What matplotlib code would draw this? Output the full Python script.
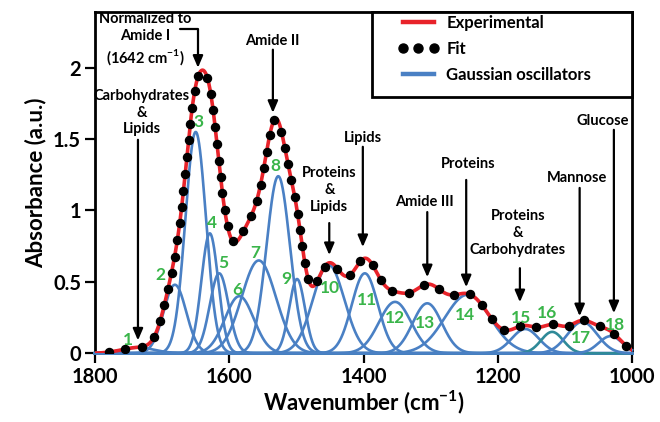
import numpy as np
import matplotlib
matplotlib.use("Agg")
import matplotlib.pyplot as plt
from matplotlib.lines import Line2D
from matplotlib.patches import Rectangle

plt.rcParams["font.family"] = ["Lato", "DejaVu Sans"]
plt.rcParams["font.weight"] = "bold"
plt.rcParams["mathtext.fontset"] = "custom"
plt.rcParams["mathtext.bf"] = "Lato:bold"
plt.rcParams["mathtext.rm"] = "Lato:bold"

# Gaussian oscillators: centre (cm-1), height (a.u.), sigma (cm-1)
centers = [1736, 1681, 1650, 1629, 1615, 1585, 1556, 1527, 1499, 1452,
           1398, 1353, 1305, 1245, 1159, 1119, 1074, 1032]
heights = [0.04, 0.48, 1.55, 0.84, 0.56, 0.40, 0.65, 1.24, 0.52, 0.62,
           0.56, 0.36, 0.35, 0.41, 0.17, 0.15, 0.22, 0.12]
sigmas = [24.7, 16.9, 15.4, 12.5, 14.0, 21.5, 25.5, 17.5, 11.8, 23.5,
          19.5, 23.9, 21.7, 34.0, 20.3, 16.5, 22.0, 17.6]
peak_ids = [str(i + 1) for i in range(len(centers))]
peak_label_x = [1751, 1703, 1646, 1626, 1609, 1588, 1561, 1532, 1515, 1450,
                1394, 1353, 1308, 1249, 1166, 1126, 1076, 1025]
peak_label_y = [0.09, 0.55, 1.62, 0.91, 0.63, 0.44, 0.70, 1.31, 0.52, 0.46,
                0.37, 0.25, 0.21, 0.27, 0.25, 0.28, 0.11, 0.20]

# band assignments: text, text position, arrow start, arrow tip
band_text = ["Carbohydrates\n&\nLipids", "Normalized to\nAmide I\n(1642 cm$^{\\mathbf{-1}}$)",
             "Amide II", "Proteins\n&\nLipids", "Lipids", "Amide III", "Proteins",
             "Proteins\n&\nCarbohydrates", "Mannose", "Glucose"]
band_text_xy = [(1730, 1.685), (1725, 2.196), (1536, 2.189), (1451, 1.144), (1401, 1.509),
                (1310, 1.060), (1244, 1.326), (1170, 0.842), (1082, 1.228), (1043, 1.628)]
arrow_from = [(1736, 1.495), (1673, 2.274), (1535, 2.126), (1451, 0.912), (1401, 1.446),
              (1305, 0.989), (1247, 1.214), (1167, 0.596), (1078, 1.158), (1027, 1.565)]
arrow_to = [(1736, 0.09), (1646.6, 2.0), (1535, 1.684), (1451, 0.688), (1401, 0.744),
            (1305, 0.533), (1247, 0.463), (1167, 0.358), (1078, 0.260), (1027, 0.281)]

RED = "#e8232a"
BLUE = "#4a80c4"
TEAL = "#2f8a98"
GREEN = "#3ab54a"

wn = np.linspace(1800, 1000, 4001)
comps = [h * np.exp(-(wn - c) ** 2 / (2 * s ** 2)) for c, h, s in zip(centers, heights, sigmas)]
total = np.sum(comps, axis=0)

fig = plt.figure(figsize=(6.6, 4.22), dpi=100)
ax = fig.add_axes([95 / 660, 1 - 353.3 / 422, 537 / 660, 341.6 / 422])
ax.set_xlim(1800, 1000)
ax.set_ylim(0, 2.392)

for i, y in enumerate(comps):
    ax.plot(wn, y, color=TEAL if i == 15 else BLUE, lw=1.9, zorder=3, clip_on=False)
ax.plot(wn, total, color=RED, lw=2.6, zorder=4)

# fit markers spaced evenly along the drawn curve
disp = ax.transData.transform(np.column_stack([wn, total]))
arc = np.concatenate([[0], np.cumsum(np.hypot(np.diff(disp[:, 0]), np.diff(disp[:, 1])))])
idx = np.searchsorted(arc, np.arange(14, arc[-1] - 4, 16.6))
ax.plot(wn[idx], total[idx], "o", color="black", ms=5.8, zorder=5)

for t, x, y in zip(peak_ids, peak_label_x, peak_label_y):
    ax.text(x, y, t, color=GREEN, fontsize=12.5, fontweight="bold", ha="center", va="center", zorder=6)

for i, (t, xy) in enumerate(zip(band_text, band_text_xy)):
    ax.text(xy[0], xy[1], t, fontsize=10.5, fontweight="bold", ha="center", va="center",
            linespacing=1.25, zorder=6)
    cs = "angle,angleA=0,angleB=90,rad=0" if i == 1 else "arc3"
    ax.annotate("", xy=arrow_to[i], xytext=arrow_from[i],
                arrowprops=dict(arrowstyle="-|>,head_width=0.3,head_length=0.7", color="black",
                                lw=1.6, shrinkA=0, shrinkB=0, mutation_scale=10,
                                connectionstyle=cs), zorder=6)

ax.set_xticks([1800, 1600, 1400, 1200, 1000])
ax.set_yticks([0, 0.5, 1, 1.5, 2])
ax.set_yticklabels(["0", "0.5", "1", "1.5", "2"])
ax.tick_params(width=1.6, length=7, labelsize=14.5, pad=3)
for sp in ax.spines.values():
    sp.set_linewidth(2)
ax.set_xlabel("Wavenumber (cm$^{\\mathbf{-1}}$)", fontsize=16, fontweight="bold", labelpad=1)
ax.set_ylabel("Absorbance (a.u.)", fontsize=16, fontweight="bold", labelpad=5)

# legend box in the top right corner
ax.add_patch(Rectangle(((372 - 95) / 537, (353.3 - 97) / 341.6), (632 - 372) / 537,
                       (97 - 11.7) / 341.6, transform=ax.transAxes, facecolor="white",
                       edgecolor="black", lw=2, zorder=7, clip_on=False))
handles = [Line2D([], [], color=RED, lw=3.2),
           Line2D([], [], color="black", ls="none", marker="o", ms=6.5),
           Line2D([], [], color=BLUE, lw=3.2)]
leg = ax.legend(handles, ["Experimental", "Fit", "Gaussian oscillators"], loc="upper left",
                bbox_to_anchor=((398 - 95) / 537, (353.3 - 15) / 341.6),
                borderaxespad=0, borderpad=0, frameon=False, numpoints=3,
                prop=dict(size=12, weight="bold"), handlelength=2.45, handletextpad=0.45,
                labelspacing=0.6)
leg.set_zorder(8)

fig.savefig("out.png", dpi=100)
